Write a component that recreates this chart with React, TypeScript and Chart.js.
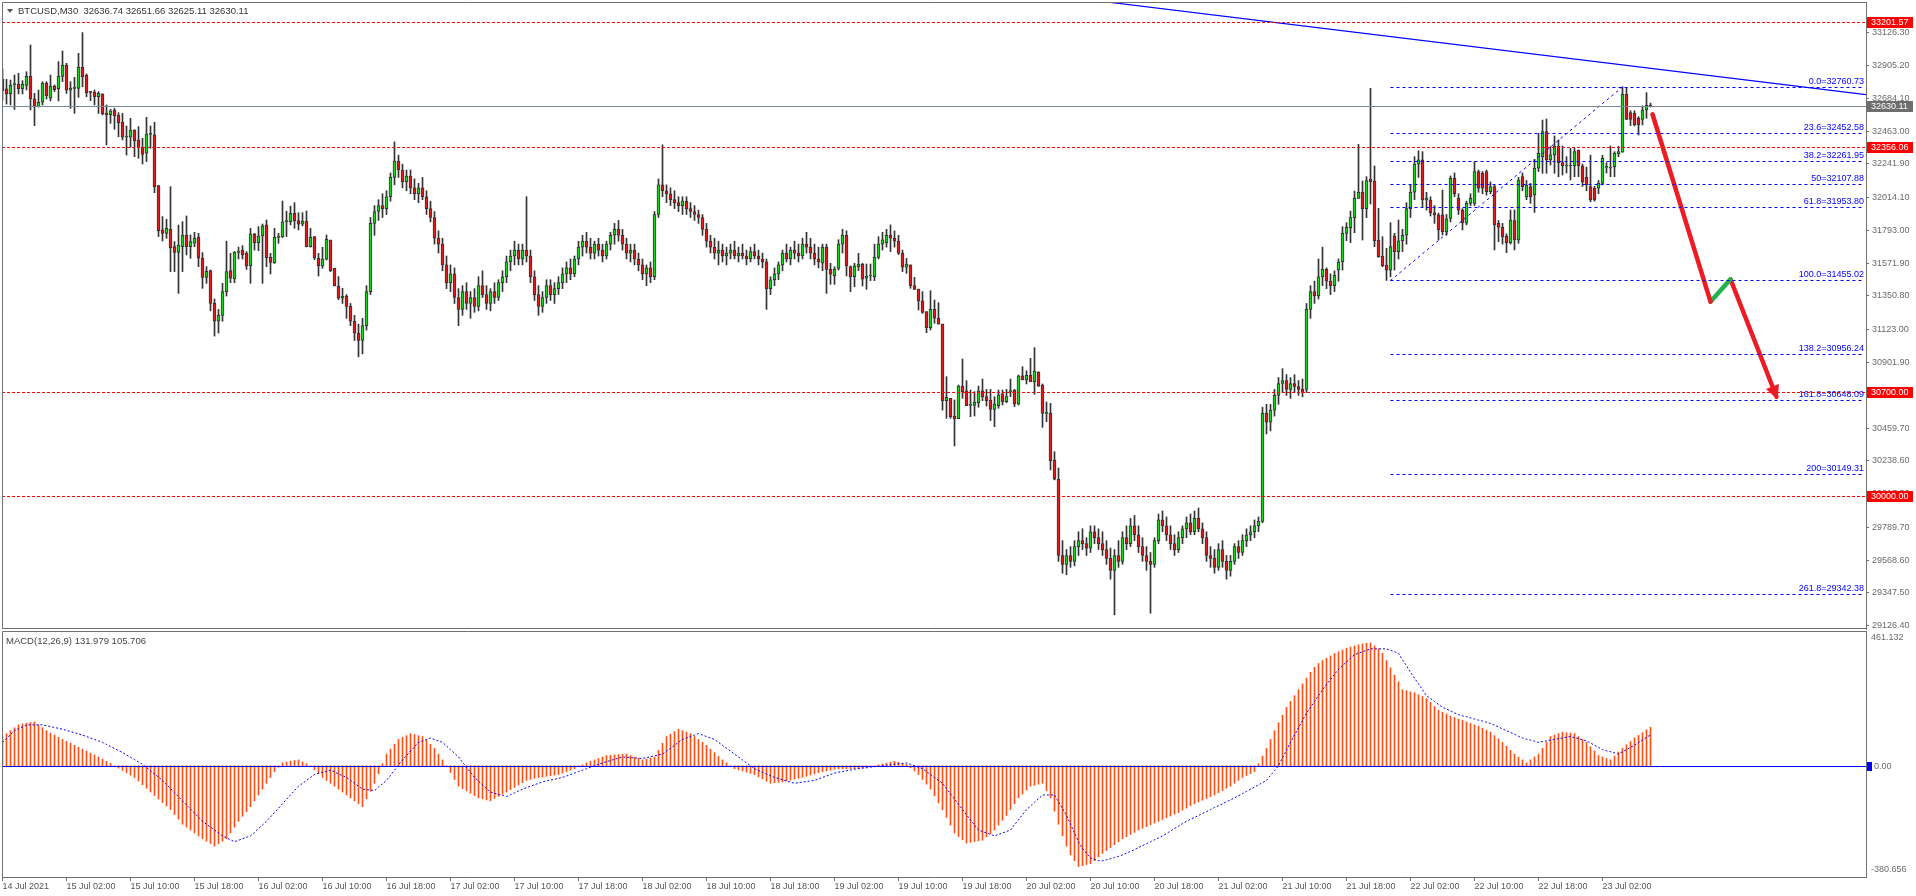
import React, { useEffect, useRef } from "react";
import { Chart, registerables } from "chart.js";

Chart.register(...registerables);

// ---------- texts ----------
const headerText = "BTCUSD,M30  32636.74 32651.66 32625.11 32630.11";
const macdHeader = "MACD(12,26,9) 131.979 105.706";

// ---------- candles (M30) ----------
const opens = [
  32812,32747,32715,32776,32778,32747,32771,32832,32681,32627,
  32657,32787,32684,32767,32749,32832,32908,32738,32751,32751,
  32893,32841,32726,32726,32695,32713,32582,32573,32605,32571,
  32524,32421,32421,32470,32403,32353,32313,32441,32437,32095,
  31796,31773,31800,31683,31645,31683,31762,31683,31706,31748,
  31605,31476,31521,31300,31180,31220,31380,31521,31465,31645,
  31660,31638,31555,31767,31710,31755,31830,31611,31575,31746,
  31751,31852,31852,31908,31859,31834,31856,31683,31751,31605,
  31553,31598,31728,31537,31418,31335,31350,31280,31180,31100,
  31050,31150,31380,31840,31920,31960,31940,32020,32150,32260,
  32200,32120,32160,32080,32040,32080,32020,31940,31880,31740,
  31700,31560,31440,31500,31340,31260,31380,31300,31340,31280,
  31420,31360,31300,31380,31340,31440,31480,31580,31620,31660,
  31600,31660,31620,31480,31360,31280,31340,31420,31360,31400,
  31440,31500,31540,31500,31600,31680,31720,31680,31640,31700,
  31660,31620,31700,31760,31800,31760,31700,31640,31660,31600,
  31560,31500,31540,31480,31900,32100,32060,32040,32000,31980,
  31960,31990,31940,31920,31900,31880,31800,31720,31680,31640,
  31660,31620,31640,31660,31620,31640,31620,31600,31650,31620,
  31600,31580,31400,31460,31500,31560,31640,31600,31660,31640,
  31620,31700,31680,31640,31600,31571,31680,31530,31488,31537,
  31700,31760,31548,31481,31548,31564,31470,31485,31481,31611,
  31700,31710,31760,31740,31720,31638,31544,31560,31420,31397,
  31317,31245,31137,31260,31200,31161,30644,30660,30541,30523,
  30743,30710,30613,30613,30631,30710,30671,30649,30586,30611,
  30690,30638,30705,30716,30620,30811,30784,30815,30772,30835,
  30750,30559,30559,30244,30114,29600,29540,29600,29560,29660,
  29700,29680,29650,29760,29720,29680,29640,29580,29500,29600,
  29560,29720,29680,29800,29740,29660,29600,29560,29540,29700,
  29840,29800,29740,29680,29640,29720,29780,29820,29760,29850,
  29780,29720,29600,29580,29520,29640,29560,29500,29560,29660,
  29620,29700,29740,29760,29800,29830,30560,30500,30580,30680,
  30760,30780,30720,30760,30740,30720,30720,31260,31380,31350,
  31480,31530,31450,31420,31526,31582,31773,31811,31879,32009,
  32049,31939,32137,32126,31728,31620,31559,31525,31755,31649,
  31723,31760,31940,32050,32240,32268,31998,31998,31912,31897,
  31897,31784,31874,32144,32009,31930,31841,31975,31975,32189,
  32180,32189,32054,32088,31841,31814,31755,31710,31859,31728,
  32155,32020,32088,32032,32212,32290,32459,32268,32302,32362,
  32250,32227,32227,32227,32335,32227,32150,32088,32077,32077,
  32110,32218,32212,32223,32308,32320,32710,32587,32582,32549,
  32542,32605,32636.74,
];
const highs = [
  32882,32812,32807,32841,32852,32803,32863,33043,32717,32740,
  32796,32796,32841,32774,32931,33003,32920,32796,32825,32987,
  33127,32848,32730,32740,32729,32715,32639,32609,32616,32587,
  32582,32497,32549,32472,32493,32414,32556,32497,32522,32097,
  31886,31868,32088,31717,31829,31852,31890,31762,31780,31773,
  31643,31548,31526,31330,31260,31436,31720,31638,31650,31680,
  31690,31650,31807,31773,31818,31836,31863,31638,31807,31773,
  31991,31922,31957,31980,31912,31912,31924,31807,31751,31638,
  31679,31762,31728,31537,31481,31402,31360,31300,31220,31160,
  31200,31420,31880,31960,32000,32040,32060,32180,32390,32300,
  32240,32200,32200,32140,32110,32150,32060,31990,31920,31790,
  31740,31620,31560,31540,31400,31420,31440,31380,31400,31480,
  31520,31420,31400,31440,31460,31520,31620,31660,31720,31700,
  31700,32020,31660,31520,31420,31380,31460,31460,31440,31480,
  31540,31580,31600,31620,31720,31760,31780,31740,31720,31740,
  31700,31720,31780,31840,31860,31800,31740,31700,31700,31640,
  31600,31560,31580,31920,32140,32370,32100,32080,32060,32020,
  32020,32020,31980,31960,31930,31900,31840,31760,31740,31720,
  31700,31680,31700,31720,31680,31700,31660,31680,31700,31660,
  31640,31600,31480,31540,31580,31660,31700,31680,31720,31700,
  31740,31780,31740,31700,31680,31700,31700,31571,31548,31730,
  31800,31790,31553,31571,31638,31571,31566,31566,31700,31750,
  31780,31800,31830,31790,31760,31660,31604,31560,31476,31397,
  31380,31245,31386,31323,31305,31161,30806,30660,30649,30750,
  30925,30779,30716,30705,30743,30790,30720,30720,30671,30716,
  30716,30720,30790,30720,30817,30874,30846,30930,31002,30840,
  30757,30635,30626,30300,30190,29700,29640,29660,29700,29760,
  29780,29720,29800,29800,29780,29760,29700,29650,29640,29700,
  29760,29800,29850,29870,29800,29720,29660,29620,29720,29880,
  29900,29860,29800,29740,29760,29800,29860,29880,29900,29920,
  29820,29760,29660,29640,29680,29700,29600,29600,29680,29700,
  29740,29780,29800,29840,29860,30600,30620,30620,30720,30800,
  30860,30820,30800,30820,30780,30790,31300,31420,31450,31600,
  31680,31540,31500,31520,31600,31818,31845,31923,32058,32373,
  32126,32155,32751,32227,31942,31750,31672,31845,31773,31863,
  31800,31980,32100,32290,32330,32324,32050,32020,31960,31910,
  32065,31900,32160,32180,32040,31940,31990,32040,32256,32200,
  32190,32200,32120,32100,31860,31840,31770,31930,31930,32150,
  32180,32130,32110,32272,32448,32537,32544,32358,32430,32403,
  32362,32290,32346,32346,32335,32240,32220,32300,32090,32130,
  32300,32250,32362,32324,32360,32760,32758,32600,32600,32560,
  32632,32722,32651.66,
];
const lows = [
  32672,32645,32639,32609,32713,32713,32740,32605,32499,32625,
  32639,32679,32666,32729,32666,32796,32717,32616,32582,32690,
  32762,32695,32668,32639,32582,32571,32369,32515,32475,32425,
  32403,32301,32353,32290,32279,32241,32257,32347,32047,31751,
  31721,31739,31515,31515,31368,31515,31627,31605,31683,31548,
  31402,31436,31250,31080,31100,31180,31350,31440,31440,31600,
  31600,31530,31436,31660,31656,31436,31548,31499,31570,31706,
  31745,31751,31830,31807,31796,31823,31681,31680,31595,31485,
  31537,31593,31515,31418,31325,31300,31200,31150,31050,30940,
  30960,31120,31360,31760,31860,31880,31900,31990,32100,32150,
  32080,32060,32040,32000,31980,32000,31900,31850,31700,31640,
  31520,31400,31380,31300,31150,31220,31260,31200,31240,31250,
  31340,31260,31250,31300,31320,31380,31440,31520,31560,31560,
  31560,31580,31440,31320,31220,31240,31300,31320,31300,31360,
  31400,31440,31460,31480,31560,31620,31640,31600,31600,31620,
  31580,31600,31660,31700,31720,31660,31600,31580,31560,31520,
  31460,31420,31440,31460,31880,32020,31980,31960,31940,31920,
  31900,31900,31880,31860,31840,31760,31680,31640,31600,31560,
  31580,31560,31600,31600,31580,31600,31560,31580,31600,31560,
  31540,31260,31360,31420,31460,31520,31580,31560,31600,31580,
  31600,31640,31600,31560,31540,31521,31368,31429,31429,31525,
  31640,31486,31380,31413,31521,31418,31395,31454,31454,31600,
  31660,31680,31650,31680,31630,31515,31503,31402,31395,31256,
  31233,31103,31121,31166,31161,30581,30525,30525,30339,30523,
  30660,30611,30536,30541,30600,30644,30608,30510,30469,30593,
  30615,30631,30671,30604,30615,30784,30757,30772,30687,30739,
  30464,30503,30177,30110,29560,29480,29470,29520,29530,29600,
  29640,29600,29620,29680,29640,29600,29540,29440,29200,29520,
  29540,29640,29660,29700,29620,29560,29500,29210,29520,29680,
  29760,29700,29640,29600,29620,29680,29720,29740,29740,29760,
  29680,29560,29520,29480,29500,29520,29440,29460,29540,29580,
  29600,29660,29700,29720,29760,29820,30420,30440,30540,30620,
  30700,30680,30660,30700,30680,30670,30700,31200,31300,31330,
  31420,31400,31360,31380,31450,31525,31723,31710,31777,32009,
  31728,31879,31971,31683,31611,31548,31455,31480,31525,31600,
  31650,31700,31880,32000,32150,31953,31930,31890,31840,31728,
  31762,31760,31850,32020,31900,31796,31830,31960,31960,32050,
  32040,32030,32040,31661,31717,31700,31643,31700,31661,31706,
  32060,32000,31975,31914,32190,32178,32178,32234,32178,32155,
  32166,32180,32133,32155,32155,32090,32060,31986,31990,32040,
  32100,32180,32155,32155,32290,32320,32540,32500,32497,32436,
  32504,32549,32625.11,
];
const closes = [
  32735,32715,32771,32778,32747,32778,32832,32681,32632,32657,
  32787,32702,32765,32742,32832,32908,32738,32753,32752,32893,
  32830,32722,32724,32695,32717,32578,32573,32600,32567,32520,
  32421,32423,32470,32398,32351,32306,32443,32443,32088,31791,
  31773,31807,31677,31645,31694,31762,31683,31717,31739,31605,
  31476,31517,31300,31180,31220,31380,31515,31470,31645,31645,
  31627,31555,31769,31710,31755,31823,31609,31577,31746,31746,
  31850,31852,31908,31859,31834,31856,31683,31746,31609,31553,
  31600,31733,31521,31418,31335,31350,31280,31180,31100,31050,
  31150,31380,31840,31920,31960,31940,32020,32150,32260,32200,
  32120,32160,32080,32040,32080,32020,31940,31880,31740,31700,
  31560,31440,31500,31340,31260,31380,31300,31340,31280,31420,
  31360,31300,31380,31340,31440,31480,31580,31620,31660,31600,
  31660,31620,31480,31360,31280,31340,31420,31360,31400,31440,
  31500,31540,31500,31600,31680,31720,31680,31640,31700,31660,
  31620,31700,31760,31800,31760,31700,31640,31660,31600,31560,
  31500,31540,31480,31900,32100,32060,32040,32000,31980,31960,
  31990,31940,31920,31900,31880,31800,31720,31680,31640,31660,
  31620,31640,31660,31620,31640,31620,31600,31650,31620,31600,
  31580,31400,31460,31500,31560,31640,31600,31660,31640,31620,
  31700,31680,31640,31600,31580,31680,31530,31497,31530,31700,
  31760,31553,31481,31553,31566,31463,31485,31485,31611,31700,
  31730,31760,31740,31720,31640,31544,31566,31420,31395,31317,
  31240,31137,31260,31200,31161,30644,30667,30536,30523,30743,
  30705,30611,30613,30633,30710,30671,30644,30586,30622,30683,
  30638,30671,30705,30622,30811,30784,30815,30772,30844,30743,
  30559,30559,30240,30114,29600,29540,29600,29560,29660,29700,
  29680,29650,29760,29720,29680,29640,29580,29500,29600,29560,
  29720,29680,29800,29740,29660,29600,29560,29540,29700,29840,
  29800,29740,29680,29640,29720,29780,29820,29760,29850,29780,
  29720,29600,29580,29520,29640,29560,29500,29560,29660,29620,
  29700,29740,29760,29800,29830,30560,30500,30580,30680,30760,
  30780,30720,30760,30740,30720,30700,31260,31380,31350,31480,
  31530,31450,31420,31490,31579,31773,31813,31880,32009,32049,
  31939,32128,32121,31723,31616,31553,31525,31683,31649,31723,
  31760,31940,32050,32240,32268,31998,32010,31912,31897,31796,
  31784,31870,32144,32040,31930,31845,31975,32009,32190,32077,
  32077,32054,32088,31829,31814,31751,31710,31863,31728,32133,
  32088,32099,32020,32212,32313,32459,32268,32302,32362,32250,
  32227,32230,32227,32324,32227,32120,32100,31998,31998,32110,
  32279,32218,32212,32313,32324,32710,32542,32542,32504,32504,
  32605,32637,32630.11,
];

// ---------- MACD(12,26,9) ----------
const macdMain = [
  100,110,120,130,140,143,146,148,150,140,
  130,120,112,105,97,90,83,77,70,63,
  57,50,43,37,30,22,15,8,0,-8,
  -16,-24,-32,-40,-52,-65,-77,-90,-102,-114,
  -126,-138,-150,-167,-183,-200,-210,-220,-230,-240,
  -250,-258,-266,-275,-267,-258,-250,-230,-210,-190,
  -173,-157,-140,-120,-100,-80,-60,-40,-20,-5,
  10,13,16,18,20,13,7,0,-13,-27,
  -40,-50,-60,-70,-80,-90,-100,-110,-120,-130,
  -140,-113,-87,-60,-27,7,40,57,73,90,
  97,103,110,107,103,100,87,73,60,40,
  20,0,-23,-47,-70,-78,-86,-94,-102,-110,
  -113,-117,-120,-112,-105,-97,-90,-82,-74,-66,
  -58,-50,-47,-43,-40,-38,-36,-34,-32,-30,
  -25,-20,-15,-10,-3,3,10,15,20,25,
  30,35,36,37,38,39,40,35,30,25,
  20,23,27,30,53,77,100,108,117,125,
  120,115,110,100,90,80,70,57,45,32,
  20,10,0,-10,-14,-18,-22,-26,-30,-38,
  -45,-53,-60,-58,-57,-55,-52,-49,-46,-43,
  -40,-36,-32,-28,-24,-20,-17,-15,-12,-10,
  -10,-10,-10,-10,-10,-8,-5,-3,0,3,
  6,9,12,15,12,8,5,-7,-18,-30,
  -47,-63,-80,-103,-127,-150,-177,-203,-230,-242,
  -253,-265,-262,-260,-257,-255,-243,-232,-220,-203,
  -187,-170,-150,-130,-110,-97,-83,-70,-67,-63,
  -60,-85,-110,-155,-200,-240,-275,-305,-325,-345,
  -342,-338,-335,-325,-312,-300,-290,-280,-270,-260,
  -250,-243,-235,-228,-220,-214,-208,-202,-196,-190,
  -184,-178,-172,-166,-160,-152,-145,-137,-130,-124,
  -118,-112,-106,-100,-92,-85,-77,-70,-60,-50,
  -40,-33,-27,-20,7,33,60,90,120,147,
  173,200,220,240,260,280,300,320,337,350,
  360,368,376,384,390,396,402,406,410,414,
  417,419,420,410,400,385,360,335,310,287,
  260,257,253,250,243,237,230,217,203,190,
  183,177,170,165,160,155,150,145,140,135,
  128,122,115,103,92,80,67,53,40,30,
  20,10,20,30,40,60,80,100,105,110,
  115,113,112,110,100,90,80,65,50,35,
  30,25,20,33,47,60,72,83,95,104,
  113,123,131.979,
];
const macdSignal = [
  80,93,107,120,127,133,140,140,140,140,
  140,137,134,131,128,125,121,117,113,109,
  105,100,95,90,85,80,73,66,59,52,
  45,37,29,21,13,5,-6,-17,-28,-39,
  -50,-64,-78,-92,-106,-120,-134,-148,-162,-176,
  -190,-200,-210,-220,-230,-240,-247,-253,-260,-255,
  -250,-245,-240,-228,-215,-203,-190,-175,-160,-145,
  -130,-115,-100,-85,-70,-60,-50,-40,-30,-26,
  -23,-19,-15,-21,-28,-34,-40,-50,-60,-70,
  -80,-82,-83,-85,-73,-62,-50,-33,-15,3,
  20,35,50,65,80,85,90,95,90,85,
  80,68,55,43,30,12,-5,-23,-40,-53,
  -65,-78,-90,-94,-98,-101,-105,-99,-93,-86,
  -80,-75,-70,-65,-60,-55,-52,-49,-46,-43,
  -40,-35,-30,-25,-20,-15,-10,-5,0,5,
  10,14,18,22,26,30,29,28,27,26,
  25,28,31,34,37,40,50,60,70,80,
  90,95,100,105,110,105,100,95,90,80,
  70,60,50,40,30,20,10,0,-10,-16,
  -22,-28,-34,-40,-44,-48,-52,-56,-60,-58,
  -56,-54,-52,-50,-45,-40,-35,-30,-25,-22,
  -20,-17,-15,-12,-10,-8,-7,-5,-3,-2,
  0,2,3,5,7,8,10,5,0,-5,
  -10,-20,-30,-40,-50,-60,-78,-96,-114,-132,
  -150,-168,-185,-203,-220,-225,-230,-235,-240,-235,
  -230,-225,-220,-202,-185,-167,-150,-138,-125,-113,
  -100,-100,-100,-100,-123,-147,-170,-200,-230,-260,
  -283,-300,-315,-320,-325,-325,-322,-318,-314,-310,
  -305,-299,-293,-287,-280,-273,-267,-260,-253,-247,
  -240,-232,-223,-215,-207,-198,-190,-183,-177,-170,
  -163,-157,-150,-143,-137,-130,-123,-117,-110,-103,
  -95,-88,-80,-73,-65,-58,-50,-33,-17,0,
  27,53,80,105,130,155,180,200,220,240,
  260,278,295,313,330,343,355,368,380,385,
  390,395,400,400,400,400,400,395,390,385,
  363,342,320,300,280,260,240,230,220,210,
  200,194,188,181,175,171,168,164,160,156,
  153,149,145,139,133,126,120,114,108,101,
  95,91,88,84,80,83,85,88,90,93,
  95,98,100,96,93,89,85,78,70,63,
  55,51,48,44,40,48,55,63,70,79,
  88,97,105.706,
];
const macdScale = [-380.656, 461.132];
const macdScaleLabels = ["-380.656", "0.00", "461.132"];

// ---------- axes ----------
const timeLabels = [
  "14 Jul 2021", "15 Jul 02:00", "15 Jul 10:00", "15 Jul 18:00", "16 Jul 02:00",
  "16 Jul 10:00", "16 Jul 18:00", "17 Jul 02:00", "17 Jul 10:00", "17 Jul 18:00",
  "18 Jul 02:00", "18 Jul 10:00", "18 Jul 18:00", "19 Jul 02:00", "19 Jul 10:00",
  "19 Jul 18:00", "20 Jul 02:00", "20 Jul 10:00", "20 Jul 18:00", "21 Jul 02:00",
  "21 Jul 10:00", "21 Jul 18:00", "22 Jul 02:00", "22 Jul 10:00", "22 Jul 18:00",
  "23 Jul 02:00",
];
const timeLabelBars = [
  0, 16, 32, 48, 64, 80, 96, 112, 128, 144, 160, 176, 192, 208, 224,
  240, 256, 272, 288, 304, 320, 336, 352, 368, 384, 400,
];
const priceTicks = [
  33126.3, 32905.2, 32684.1, 32463.0, 32241.9, 32014.1, 31793.0, 31571.9, 31350.8,
  31123.0, 30901.9, 30680.8, 30459.7, 30238.6, 30017.5, 29789.7, 29568.6, 29347.5, 29126.4,
];
const priceScale = [29104.1, 33333.4];
const barWindow = [-0.125, 465.875];

// ---------- drawn objects ----------
const redLevels = [33201.57, 32356.06, 30700.0, 30000.0];
const currentPrice = 32630.11;
const fibRatios = ["0.0", "23.6", "38.2", "50", "61.8", "100.0", "138.2", "161.8", "200", "261.8"];
const fibPrices = [32760.73, 32452.58, 32261.95, 32107.88, 31953.8, 31455.02, 30956.24, 30648.09, 30149.31, 29342.38];
const fibStartBar = 347;
const fibAnchorBars = [347, 405];
const fibAnchorPrices = [31455.02, 32760.73];
const trendBars = [276, 466];
const trendPrices = [33334, 32708];
const arrowBars = [412.5, 427, 432, 443.5];
const arrowPrices = [32576, 31312, 31463, 30671];

// ---------- style ----------
const FONT = "'Liberation Sans', Arial, sans-serif";
const AXIS = "#707070";
const TXT = "#6a6a6a";
const UP = "#1fd21f";
const DOWN = "#dc1c1c";
const WICK = "#333333";
const BLUE = "#0000ff";
const RED = "#ff0000";

const idx = closes.map((_, i) => i);

const noPad = (s: any) => {
  s.paddingTop = 0;
  s.paddingBottom = 0;
  s.paddingLeft = 0;
  s.paddingRight = 0;
};

const frame = (ctx: CanvasRenderingContext2D, ca: any, bottom: boolean) => {
  ctx.save();
  ctx.strokeStyle = AXIS;
  ctx.lineWidth = 1;
  ctx.setLineDash([]);
  ctx.beginPath();
  ctx.moveTo(ca.left + 0.5, ca.bottom);
  ctx.lineTo(ca.left + 0.5, ca.top + 0.5);
  ctx.lineTo(ca.right, ca.top + 0.5);
  if (bottom) {
    ctx.moveTo(ca.left, ca.bottom - 0.5);
    ctx.lineTo(ca.right, ca.bottom - 0.5);
  }
  ctx.stroke();
  ctx.restore();
};

const overlayTop = {
  id: "overlayTop",
  afterDatasetsDraw(chart: any) {
    const { ctx, chartArea: ca, scales } = chart;
    const xs = scales.x;
    const ys = scales.y;
    const py = (v: number) => Math.round(ys.getPixelForValue(v)) + 0.5;
    ctx.save();
    ctx.lineWidth = 1;

    // fibonacci levels
    const fx = xs.getPixelForValue(fibStartBar);
    ctx.strokeStyle = BLUE;
    ctx.setLineDash([3, 3]);
    fibPrices.forEach((p) => {
      const y = py(p);
      ctx.beginPath();
      ctx.moveTo(fx, y);
      ctx.lineTo(ca.right - 2, y);
      ctx.stroke();
    });

    // red horizontal levels
    ctx.strokeStyle = RED;
    ctx.setLineDash([3, 2]);
    redLevels.forEach((p) => {
      const y = py(p);
      ctx.beginPath();
      ctx.moveTo(ca.left, y);
      ctx.lineTo(ca.right, y);
      ctx.stroke();
    });

    // current price line
    ctx.setLineDash([]);
    ctx.strokeStyle = "#778899";
    const cy = py(currentPrice);
    ctx.beginPath();
    ctx.moveTo(ca.left, cy);
    ctx.lineTo(ca.right, cy);
    ctx.stroke();

    // fib labels
    ctx.font = `9px ${FONT}`;
    ctx.fillStyle = BLUE;
    ctx.textAlign = "right";
    ctx.textBaseline = "bottom";
    fibPrices.forEach((p, i) => {
      ctx.fillText(`${fibRatios[i]}=${p.toFixed(2)}`, ca.right - 2, py(p) - 1);
    });

    // arrow head
    const n = arrowBars.length;
    const x2 = xs.getPixelForValue(arrowBars[n - 2]);
    const y2 = ys.getPixelForValue(arrowPrices[n - 2]);
    const x3 = xs.getPixelForValue(arrowBars[n - 1]);
    const y3 = ys.getPixelForValue(arrowPrices[n - 1]);
    const len = Math.hypot(x3 - x2, y3 - y2);
    const dx = (x3 - x2) / len;
    const dy = (y3 - y2) / len;
    const tx = x3 + dx * 3;
    const ty = y3 + dy * 3;
    const bx = tx - dx * 14;
    const by = ty - dy * 14;
    ctx.fillStyle = "#ed1c24";
    ctx.beginPath();
    ctx.moveTo(tx, ty);
    ctx.lineTo(bx - dy * 7, by + dx * 7);
    ctx.lineTo(bx + dy * 7, by - dx * 7);
    ctx.closePath();
    ctx.fill();

    // price boxes on the axis
    ctx.textAlign = "left";
    ctx.textBaseline = "middle";
    ctx.font = `9px ${FONT}`;
    const box = (p: number, bg: string) => {
      const y = Math.round(ys.getPixelForValue(p));
      ctx.fillStyle = bg;
      ctx.fillRect(ca.right + 1, y - 5, 46, 11);
      ctx.fillStyle = "#ffffff";
      ctx.fillText(p.toFixed(2), ca.right + 5, y + 0.5);
    };
    redLevels.forEach((p) => box(p, RED));
    box(currentPrice, "#6e6e6e");

    // header
    ctx.fillStyle = "#555555";
    ctx.beginPath();
    ctx.moveTo(7, 9);
    ctx.lineTo(13, 9);
    ctx.lineTo(10, 13);
    ctx.closePath();
    ctx.fill();
    ctx.fillStyle = "#333333";
    ctx.font = `9.5px ${FONT}`;
    ctx.fillText(headerText, 18, 11);

    ctx.restore();
    frame(ctx, ca, true);
  },
};

const overlayBottom = {
  id: "overlayBottom",
  afterDatasetsDraw(chart: any) {
    const { ctx, chartArea: ca, scales } = chart;
    const ys = scales.y;
    ctx.save();
    const zy = Math.round(ys.getPixelForValue(0)) + 0.5;
    ctx.strokeStyle = BLUE;
    ctx.lineWidth = 1;
    ctx.beginPath();
    ctx.moveTo(ca.left, zy);
    ctx.lineTo(ca.right, zy);
    ctx.stroke();

    ctx.font = `9.5px ${FONT}`;
    ctx.textAlign = "left";
    ctx.textBaseline = "middle";
    ctx.fillStyle = "#444444";
    ctx.fillText(macdHeader, 6, ca.top + 10);

    ctx.font = `9px ${FONT}`;
    ctx.fillStyle = TXT;
    ctx.fillText(macdScaleLabels[2], ca.right + 5, ca.top + 7);
    ctx.fillText(macdScaleLabels[0], ca.right + 5, ca.bottom - 7);
    ctx.fillStyle = BLUE;
    ctx.fillRect(ca.right + 1, zy - 4.5, 5, 9);
    ctx.fillStyle = TXT;
    ctx.fillText(macdScaleLabels[1], ca.right + 8, zy);
    ctx.restore();
    frame(ctx, ca, false);
  },
};

const lineDs = (xsArr: number[], ysArr: number[], color: string, width: number, dash: number[] = []) => ({
  type: "line",
  data: xsArr.map((x, i) => ({ x, y: ysArr[i] })),
  borderColor: color,
  borderWidth: width,
  borderDash: dash,
  pointRadius: 0,
  fill: false,
  tension: 0,
  borderCapStyle: "round",
  borderJoinStyle: "round",
  order: 0,
});

export default function App() {
  const topRef = useRef<HTMLCanvasElement>(null);
  const botRef = useRef<HTMLCanvasElement>(null);

  useEffect(() => {
    document.body.style.margin = "0";
    document.body.style.background = "#ffffff";

    const topChart = new Chart(topRef.current as HTMLCanvasElement, {
      type: "bar",
      data: {
        datasets: [
          {
            type: "bar",
            data: idx.map((i) => ({ x: i, y: [lows[i], highs[i]] })),
            backgroundColor: WICK,
            borderWidth: 0,
            barThickness: 1,
            grouped: false,
            minBarLength: 1,
            order: 2,
          },
          {
            type: "bar",
            data: idx.map((i) => ({ x: i, y: [opens[i], closes[i]] })),
            backgroundColor: idx.map((i) => (closes[i] >= opens[i] ? UP : DOWN)),
            borderColor: WICK,
            borderWidth: 1,
            borderSkipped: false,
            barThickness: 3,
            grouped: false,
            minBarLength: 1,
            order: 1,
          },
          lineDs(trendBars, trendPrices, BLUE, 1.2),
          lineDs(fibAnchorBars, fibAnchorPrices, BLUE, 1, [2, 4]),
          lineDs(arrowBars.slice(0, 2), arrowPrices.slice(0, 2), "#ed1c24", 4.5),
          lineDs(arrowBars.slice(1, 3), arrowPrices.slice(1, 3), "#22b14c", 4.5),
          lineDs(arrowBars.slice(2, 4), arrowPrices.slice(2, 4), "#ed1c24", 4.5),
        ] as any,
      },
      options: {
        responsive: false,
        animation: false,
        events: [],
        layout: { padding: { top: 2, left: 2, right: 0, bottom: 2 } },
        plugins: { legend: { display: false }, tooltip: { enabled: false } },
        scales: {
          x: {
            type: "linear",
            min: barWindow[0],
            max: barWindow[1],
            offset: false,
            display: false,
            grid: { offset: false },
            afterFit: noPad,
          },
          y: {
            type: "linear",
            position: "right",
            min: priceScale[0],
            max: priceScale[1],
            beginAtZero: false,
            afterBuildTicks: (s: any) => {
              s.ticks = priceTicks.map((v) => ({ value: v }));
            },
            afterFit: (s: any) => {
              s.width = 50;
              noPad(s);
            },
            ticks: {
              autoSkip: false,
              padding: 3,
              color: TXT,
              font: { family: FONT, size: 9 },
              callback: (v: any) => Number(v).toFixed(2),
            },
            grid: { drawOnChartArea: false, tickLength: 3, color: AXIS },
            border: { display: true, color: AXIS },
          },
        },
      } as any,
      plugins: [overlayTop],
    });

    const botChart = new Chart(botRef.current as HTMLCanvasElement, {
      type: "bar",
      data: {
        datasets: [
          {
            type: "bar",
            data: idx.map((i) => ({ x: i, y: macdMain[i] })),
            backgroundColor: "#ff4f14",
            borderWidth: 0,
            barThickness: 1,
            grouped: false,
            order: 1,
          },
          {
            type: "line",
            data: idx.map((i) => ({ x: i, y: macdSignal[i] })),
            borderColor: BLUE,
            borderWidth: 1,
            borderDash: [2, 2],
            pointRadius: 0,
            fill: false,
            tension: 0,
            order: 0,
          },
        ] as any,
      },
      options: {
        responsive: false,
        animation: false,
        events: [],
        layout: { padding: { top: 2, left: 2, right: 0, bottom: 0 } },
        plugins: { legend: { display: false }, tooltip: { enabled: false } },
        scales: {
          x: {
            type: "linear",
            min: barWindow[0],
            max: barWindow[1],
            offset: false,
            afterBuildTicks: (s: any) => {
              s.ticks = timeLabelBars.map((v) => ({ value: v }));
            },
            afterFit: (s: any) => {
              s.height = 19;
              noPad(s);
            },
            ticks: {
              autoSkip: false,
              maxRotation: 0,
              minRotation: 0,
              align: "start",
              padding: 0,
              color: "#555555",
              font: { family: FONT, size: 9 },
              callback: (_v: any, i: number) => timeLabels[i],
            },
            grid: { drawOnChartArea: false, tickLength: 4, color: AXIS, offset: false },
            border: { display: true, color: AXIS },
          },
          y: {
            type: "linear",
            position: "right",
            min: macdScale[0],
            max: macdScale[1],
            beginAtZero: false,
            afterFit: (s: any) => {
              s.width = 50;
              noPad(s);
            },
            ticks: { display: false },
            grid: { display: false },
            border: { display: true, color: AXIS },
          },
        },
      } as any,
      plugins: [overlayBottom],
    });

    return () => {
      topChart.destroy();
      botChart.destroy();
    };
  }, []);

  return (
    <div style={{ position: "relative", width: 1916, height: 896, background: "#ffffff", overflow: "hidden" }}>
      <canvas
        ref={topRef}
        width={1916}
        height={631}
        style={{ position: "absolute", left: 0, top: 0, width: 1916, height: 631 }}
      />
      <canvas
        ref={botRef}
        width={1916}
        height={267}
        style={{ position: "absolute", left: 0, top: 629, width: 1916, height: 267 }}
      />
    </div>
  );
}
